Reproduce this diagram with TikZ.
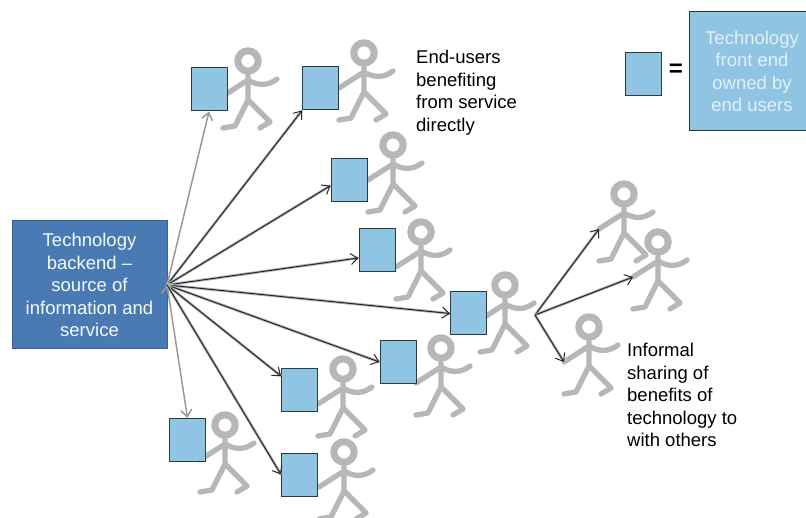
\documentclass[tikz,border=0pt]{standalone}
\usepackage{fontspec}
\setmainfont{Liberation Sans}
\usetikzlibrary{arrows.meta}
\definecolor{frontblue}{HTML}{8FC4E3}
\definecolor{backblue}{HTML}{4A7AB3}
\definecolor{stickgray}{HTML}{B6B7B9}
\tikzset{
    frontend/.style={draw=black!70!frontblue,fill=frontblue,line width=1pt,minimum width=36pt,minimum height=43pt,inner sep=0pt},
    backend/.style={draw=backblue!80!black,fill=backblue,text=white!90!frontblue,line width=1pt,minimum width=155pt,minimum height=128pt,align=center,inner sep=0pt},
    legend/.style={frontend,text=white!75!frontblue,minimum width=126pt,minimum height=119pt,align=center},
    label/.style={align=left,anchor=north west,inner sep=0pt},
    link/.style={->,draw=black!85,line width=1pt,preaction={draw=stickgray,line width=2.8pt,-}},
    paleLink/.style={->,draw=black!40,line width=1.5pt},
    pics/person/.style={code={
        \draw[stickgray,line width=7pt] (0,0) circle (10.2);
        \draw[stickgray,line width=5.3pt,line cap=round,line join=round]
            (0,14) -- (0,39)
            (-25,35) -- (0,19) .. controls (10,25) and (20,25) .. (29,18)
            (-25,67) -- (-13,65) -- (0,39) -- (22,61) -- (12,67);
        \coordinate (-hand) at (-25,35);
    }}
}
\begin{document}
\begin{tikzpicture}[x=1pt,y=-1pt,>={Straight Barb[length=7pt,width=11pt]},font=\fontsize{18.5}{22.5}\selectfont]
    \path[use as bounding box,clip] (0,0) rectangle (806,518);
    % people first, the boxes sit over their arms
    \foreach \who/\x/\y in {p1/248/61,p2/364/53,p3/393/145,p4/421/232,p5/505/285,p6/624/194,p7/658/242,p8/589/327,p9/441/348,p10/343/369,p11/225/425,p12/344/452}
        \pic (\who) at (\x,\y) {person};
    \foreach \who/\x/\y in {b1/209/89.5,b2/320.5/88.5,b3/349/180,b4/377/250.5,b5/468.5/313.5,b6/398/362,b7/299.5/390.5,b8/187.5/440,b9/299.5/474.5}
        \node[frontend] (\who) at (\x,\y) {};
    \node[backend] (tech) at (89.5,285) {Technology\\backend --\\source of\\information and\\service};
    \coordinate (hub) at (167,285);
    \coordinate (share) at (535,315);
    \node[frontend] (key) at (643,74.5) {};
    \node[legend] (owned) at (752,71.5) {Technology\\front end\\owned by\\end users};
    \node[font=\fontsize{24}{24}\selectfont\bfseries] (equals) at (676,70) {=};
    \node[label] (direct) at (416,50) {End-users\\benefiting\\from service\\directly};
    \node[label] (informal) at (627,343) {Informal\\sharing of\\benefits of\\technology to\\with others};
    \path[paleLink] (hub) edge (b1.south) edge (b8.north);
    \draw[link] (hub) -- (b2.south west);
    \draw[link] (hub) -- (b3.197);
    \draw[link] (hub) -- (b4.202);
    \draw[link] (hub) -- (b5.west);
    \draw[link] (hub) -- (b6.west);
    \draw[link] (hub) -- (b7.142);
    \draw[link] (hub) -- (b9.west);
    \draw[link] (share) -- (p6-hand);
    \draw[link] (share) -- (p7-hand);
    \draw[link] (share) -- (p8-hand);
\end{tikzpicture}
\end{document}
